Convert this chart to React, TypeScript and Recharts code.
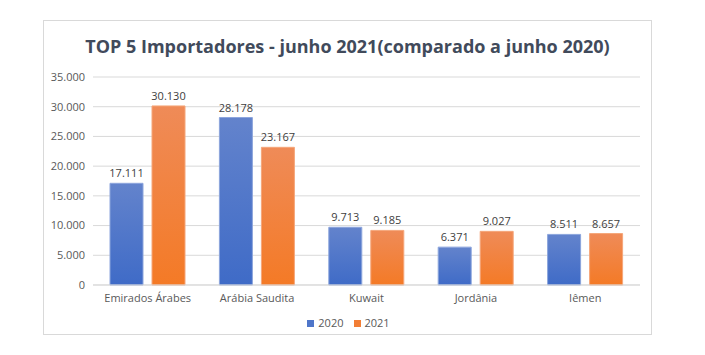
import React from 'react';
import { BarChart, Bar, XAxis, YAxis, CartesianGrid, LabelList } from 'recharts';

const categories = ['Emirados Árabes', 'Arábia Saudita', 'Kuwait', 'Jordânia', 'Iêmen'];
const values2020 = [17111, 28178, 9713, 6371, 8511];
const values2021 = [30130, 23167, 9185, 9027, 8657];
const yTicks = [0, 5000, 10000, 15000, 20000, 25000, 30000, 35000];
const seriesNames = ['2020', '2021'];

const data = categories.map((c, i) => ({ name: c, a: values2020[i], b: values2021[i] }));

const fmt = (v: number) => v.toLocaleString('de-DE');
const FONT = '"Open Sans", "Noto Sans", sans-serif';

export default function App() {
  return (
    <div style={{ position: 'absolute', left: 0, top: 0, width: 705, height: 355, background: '#fff', fontFamily: FONT }}>
      <div style={{ position: 'absolute', left: 43, top: 20, width: 609, height: 315, boxSizing: 'border-box', border: '1px solid #D9D9D9' }} />
      <div style={{ position: 'absolute', left: 43, top: 34, width: 609, textAlign: 'center', fontSize: 18, fontWeight: 700, color: '#414A5B', lineHeight: '24px' }}>
        TOP 5 Importadores - junho 2021(comparado a junho 2020)
      </div>
      <div style={{ position: 'absolute', left: 0, top: 0 }}>
        <BarChart width={705} height={355} data={data} margin={{ top: 77, left: 40, right: 65, bottom: 50 }} barSize={33} barGap={9}>
          <defs>
            <linearGradient id="gBlue" x1="0" y1="0" x2="0" y2="1">
              <stop offset="0%" stopColor="#6383CC" />
              <stop offset="100%" stopColor="#3F6BC7" />
            </linearGradient>
            <linearGradient id="gOrange" x1="0" y1="0" x2="0" y2="1">
              <stop offset="0%" stopColor="#EF8B58" />
              <stop offset="100%" stopColor="#F47A26" />
            </linearGradient>
          </defs>
          <CartesianGrid vertical={false} stroke="#D9D9D9" />
          <XAxis dataKey="name" axisLine={{ stroke: '#D9D9D9' }} tickLine={false} height={20} tick={{ fontSize: 11, fill: '#595959', fontFamily: FONT }} tickMargin={3} interval={0} />
          <YAxis domain={[0, 35000]} ticks={yTicks} axisLine={false} tickLine={false} width={53} tickFormatter={fmt} tick={{ fontSize: 11, fill: '#595959', fontFamily: FONT }} />
          <Bar dataKey="a" name={seriesNames[0]} fill="url(#gBlue)" stroke="#8CA5DC" strokeWidth={1} isAnimationActive={false}>
            <LabelList dataKey="a" position="top" offset={6} formatter={(v: any) => fmt(Number(v))} style={{ fontSize: 11, fill: '#404040', fontFamily: FONT }} />
          </Bar>
          <Bar dataKey="b" name={seriesNames[1]} fill="url(#gOrange)" stroke="#F5A67A" strokeWidth={1} isAnimationActive={false}>
            <LabelList dataKey="b" position="top" offset={6} formatter={(v: any) => fmt(Number(v))} style={{ fontSize: 11, fill: '#404040', fontFamily: FONT }} />
          </Bar>
        </BarChart>
      </div>
      <div style={{ position: 'absolute', left: 0, top: 316, width: 697, display: 'flex', justifyContent: 'center', fontSize: 11, color: '#595959', lineHeight: '14px' }}>
        <span style={{ display: 'inline-flex', alignItems: 'center', marginRight: 10 }}>
          <span style={{ width: 7, height: 7, background: '#4F76C9', marginRight: 4 }} />{seriesNames[0]}
        </span>
        <span style={{ display: 'inline-flex', alignItems: 'center' }}>
          <span style={{ width: 7, height: 7, background: '#F27E35', marginRight: 4 }} />{seriesNames[1]}
        </span>
      </div>
    </div>
  );
}
